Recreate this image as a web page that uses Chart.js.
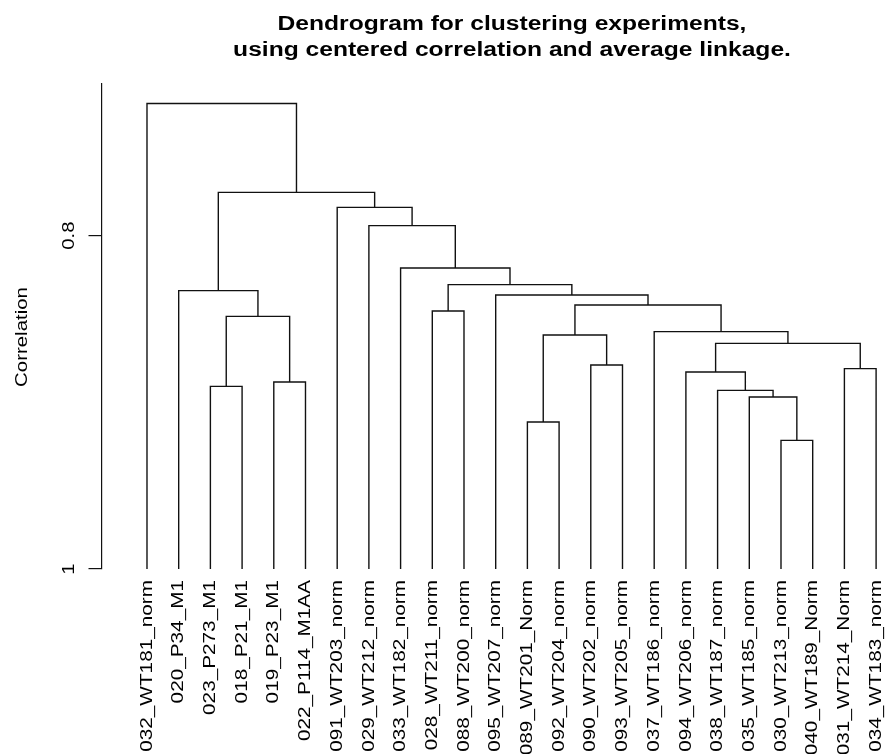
<!DOCTYPE html>
<html>
<head>
<meta charset="utf-8">
<script src="https://cdn.jsdelivr.net/npm/chart.js@4.4.1/dist/chart.umd.min.js"></script>
<style>
  html, body { margin: 0; padding: 0; background: #fff; }
  #wrap { width: 887px; height: 754px; }
</style>
</head>
<body>
<div id="wrap"><canvas id="myChart" width="887" height="754"></canvas></div>
<script>
const gTitle = ['Dendrogram for clustering experiments,', 'using centered correlation and average linkage.']
const gYTitle = 'Correlation'

// leaves in the order they are drawn, left to right
const gLeafLabels = [
  '032_WT181_norm', '020_P34_M1', '023_P273_M1', '018_P21_M1', '019_P23_M1', '022_P114_M1AA',
  '091_WT203_norm', '029_WT212_norm', '033_WT182_norm', '028_WT211_norm', '088_WT200_norm', '095_WT207_norm',
  '089_WT201_Norm', '092_WT204_norm', '090_WT202_norm', '093_WT205_norm', '037_WT186_norm', '094_WT206_norm',
  '038_WT187_norm', '035_WT185_norm', '030_WT213_norm', '040_WT189_Norm', '031_WT214_Norm', '034_WT183_norm'
]

// merge table like R's hclust: negative = leaf position, positive = earlier merge row
const gMergeLeft  = [-21, -13, -3, -20, -19, -5, -18, -23, -15, 7, 2, -17, 3, -10, 11, -12, -2, 14, -9, -8, -7, 17, -1]
const gMergeRight = [-22, -14, -4, 1, 4, -6, 5, -24, -16, 8, 9, 10, 6, -11, 12, 15, 13, 16, 18, 19, 20, 21, 22]
const gMergeHeight = [0.9228, 0.9118, 0.8904, 0.8968, 0.8928, 0.8878, 0.8818, 0.8798, 0.8776, 0.8646, 0.8596, 0.8576,
  0.8484, 0.8452, 0.8416, 0.8356, 0.8330, 0.8294, 0.8194, 0.7940, 0.7830, 0.7740, 0.7207]

const gLeafBase = 1
const gYTicks = [0.8, 1]
const gYMin = 0.709

function buildSegments() {
  const nodeX = []
  const nodeY = []
  const pos = (ref) => ref < 0 ? { x: -ref, y: gLeafBase } : { x: nodeX[ref - 1], y: nodeY[ref - 1] }
  const points = []
  gMergeHeight.forEach((h, i) => {
    const l = pos(gMergeLeft[i])
    const r = pos(gMergeRight[i])
    nodeX.push((l.x + r.x) / 2)
    nodeY.push(h)
    points.push({ x: l.x, y: l.y }, { x: l.x, y: h }, { x: r.x, y: h }, { x: r.x, y: r.y }, { x: r.x, y: null })
  })
  return points
}

// rotated text, reading bottom to top, stretched a little like the original font
function drawUp(ctx, text, px, py, align, stretch) {
  ctx.save()
  ctx.translate(px, py)
  ctx.rotate(-Math.PI / 2)
  ctx.scale(stretch, 1)
  ctx.textAlign = align
  ctx.textBaseline = 'middle'
  ctx.fillText(text, 0, 0)
  ctx.restore()
}

const textPlugin = {
  id: 'dendroText',
  afterDraw(chart) {
    const { ctx, scales: { x, y } } = chart
    ctx.save()
    ctx.fillStyle = '#000'

    ctx.font = 'bold 20px "Liberation Sans", Arial, sans-serif'
    ctx.textAlign = 'center'
    ctx.textBaseline = 'alphabetic'
    gTitle.forEach((line, i) => {
      ctx.save()
      ctx.translate(512, 29.5 + i * 26)
      ctx.scale(1.23, 1)
      ctx.fillText(line, 0, 0)
      ctx.restore()
    })

    ctx.font = '17px "Liberation Sans", Arial, sans-serif'
    gLeafLabels.forEach((lab, i) => {
      drawUp(ctx, lab, x.getPixelForValue(i + 1), y.bottom + 11, 'right', 1.22)
    })
    gYTicks.forEach(v => {
      drawUp(ctx, String(v), 69, y.getPixelForValue(v), 'center', 1.2)
    })
    drawUp(ctx, gYTitle, 22, 337, 'center', 1.2)
    ctx.restore()
  }
}

function displayChart() {
  const ctx = document.getElementById('myChart').getContext('2d')
  new Chart(ctx, {
    type: 'line',
    data: {
      datasets: [{
        data: buildSegments(),
        borderColor: '#111',
        borderWidth: 1.4,
        pointRadius: 0,
        tension: 0,
        spanGaps: false,
        fill: false
      }]
    },
    options: {
      responsive: false,
      animation: false,
      devicePixelRatio: 1,
      layout: { padding: { top: 84, bottom: 185, left: 88.5, right: 0 } },
      plugins: {
        legend: { display: false },
        tooltip: { enabled: false },
        title: { display: false }
      },
      scales: {
        x: { type: 'linear', display: false, min: -0.435, max: 24.344 },
        y: {
          type: 'linear',
          reverse: true,
          min: gYMin,
          max: 1,
          afterBuildTicks: (scale) => { scale.ticks = gYTicks.map(v => ({ value: v })) },
          ticks: { display: false },
          grid: { drawOnChartArea: false, drawTicks: true, tickLength: 13, color: '#111', lineWidth: 1.2 },
          border: { display: true, color: '#111', width: 1.2 }
        }
      }
    },
    plugins: [textPlugin]
  })
}

displayChart()
</script>
</body>
</html>
